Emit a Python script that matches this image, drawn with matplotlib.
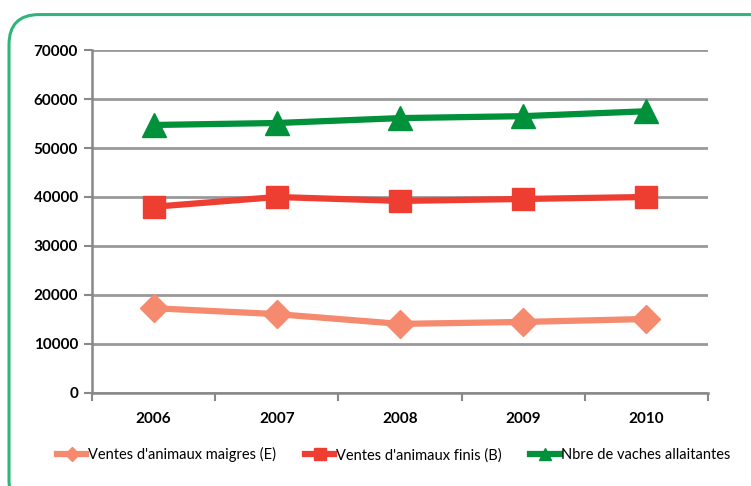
import matplotlib.pyplot as plt
from matplotlib.patches import FancyBboxPatch

years = ['2006', '2007', '2008', '2009', '2010']
maigres = [17300, 16100, 14100, 14500, 15100]
finis = [38000, 40000, 39200, 39600, 40000]
vaches = [54700, 55100, 56100, 56500, 57500]

labels = ["Ventes d'animaux maigres (E)", "Ventes d'animaux finis (B)", "Nbre de vaches allaitantes"]
colors = ['#f58a6e', '#ee3e32', '#00913a']

plt.rcParams['font.family'] = ['Lato', 'DejaVu Sans']

fig = plt.figure(figsize=(7.51, 4.86), dpi=100)

# green rounded frame
frame = FancyBboxPatch((0.012, -0.05), 1.05, 1.02, boxstyle='round,pad=0,rounding_size=0.04',
                       transform=fig.transFigure, fill=False, edgecolor='#2fb57c', linewidth=2.2,
                       mutation_aspect=751 / 486)
fig.patches.append(frame)

ax = fig.add_axes([0.1225, 0.1914, 0.8202, 0.7057])
x = list(range(len(years)))

ax.plot(x, maigres, color=colors[0], lw=4.5, marker='D', ms=14, label=labels[0])
ax.plot(x, finis, color=colors[1], lw=4.5, marker='s', ms=16, label=labels[1])
ax.plot(x, vaches, color=colors[2], lw=4.5, marker='^', ms=17, label=labels[2])

ax.set_xlim(-0.5, 4.5)
ax.set_ylim(0, 70000)
ax.set_yticks(range(0, 70001, 10000))
ax.set_yticklabels([str(v) for v in range(0, 70001, 10000)], fontsize=11, fontweight='bold')
ax.set_xticks(x)
ax.set_xticklabels(years, fontsize=11, fontweight='bold')
ax.set_xticks([i - 0.5 for i in range(len(years) + 1)], minor=True)
ax.tick_params(axis='x', which='major', length=0, pad=14)
ax.tick_params(axis='x', which='minor', length=6, width=1.5, color='#888888')
ax.tick_params(axis='y', length=6, width=1.5, color='#888888', pad=4)
ax.grid(axis='y', color='#999999', lw=2)
ax.set_axisbelow(True)
for s in ['top', 'right']:
    ax.spines[s].set_visible(False)
ax.spines['left'].set_color('#888888')
ax.spines['left'].set_linewidth(1.8)
ax.spines['bottom'].set_color('#888888')
ax.spines['bottom'].set_linewidth(1.8)

ax.legend(loc='upper center', bbox_to_anchor=(0.49, -0.12), ncol=3, frameon=False, fontsize=10.5,
          markerscale=0.5, handlelength=2.0, handletextpad=0.1, columnspacing=2.0)

fig.savefig('out.png', dpi=100)
